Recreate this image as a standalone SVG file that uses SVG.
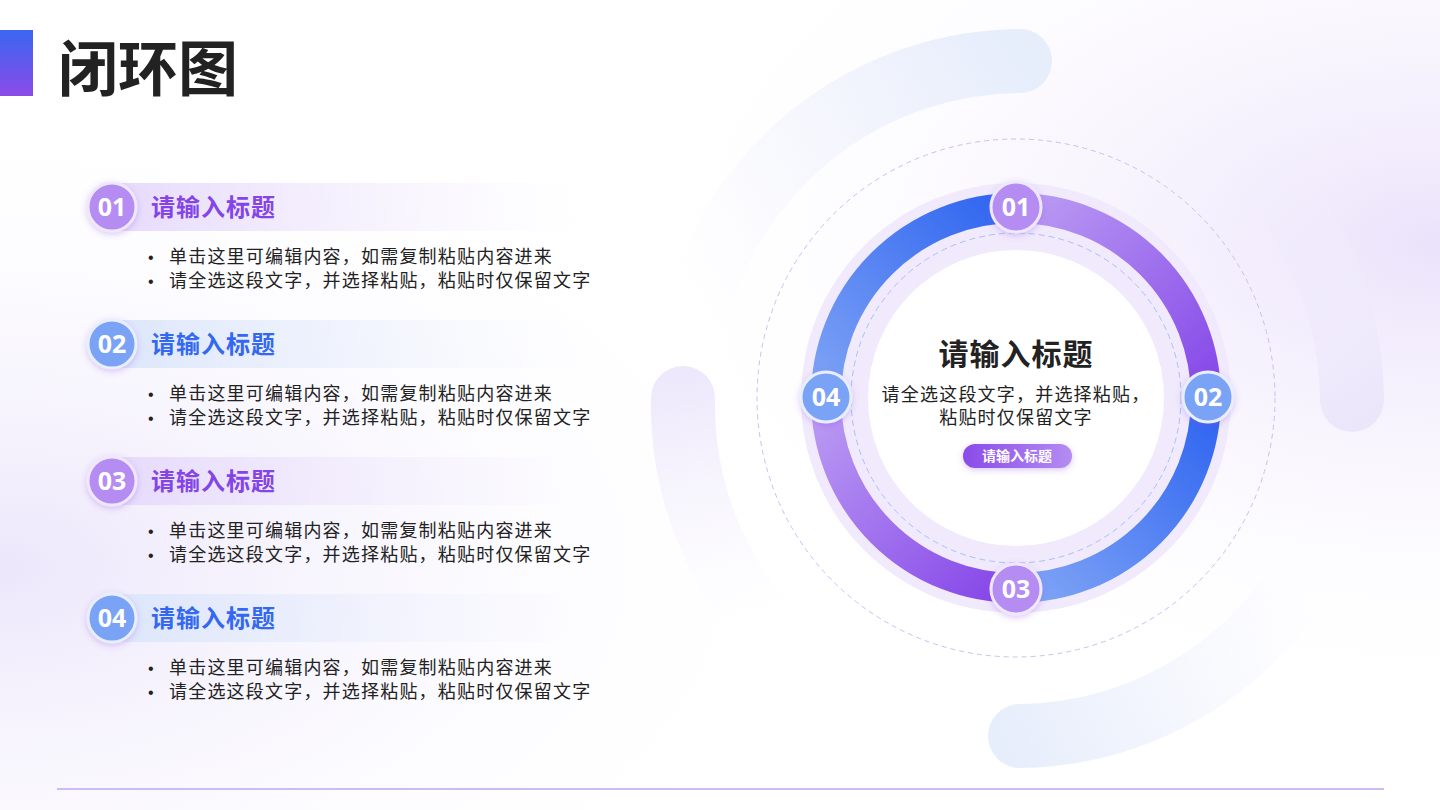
<svg xmlns="http://www.w3.org/2000/svg" width="1440" height="810" viewBox="0 0 1440 810">
<defs>
<style>
.t{font-family:"Noto Sans CJK SC","Noto Sans",sans-serif}
.bt{font-family:"Noto Sans CJK SC",sans-serif;font-size:24px;font-weight:700;letter-spacing:1px}
.bd{font-family:"Noto Sans CJK SC",sans-serif;font-size:18px;fill:#222;letter-spacing:1.2px}
.bu{font-family:"Liberation Sans",sans-serif;font-size:16px;fill:#222}
.num{font-family:"Noto Sans","Noto Sans CJK SC",sans-serif;font-size:25px;font-weight:700;fill:#fff;text-anchor:middle}
</style>
<radialGradient id="bgL" cx="0" cy="0.7" r="0.6"><stop offset="0" stop-color="#ece6fb"/><stop offset="1" stop-color="#ffffff" stop-opacity="0"/></radialGradient>
<radialGradient id="bgR" cx="1" cy="0.3" r="0.6"><stop offset="0" stop-color="#ebe2fb"/><stop offset="1" stop-color="#ffffff" stop-opacity="0"/></radialGradient>
<linearGradient id="bar" x1="0" y1="0" x2="0" y2="1"><stop offset="0" stop-color="#3a66f0"/><stop offset="1" stop-color="#8a4be8"/></linearGradient>
<linearGradient id="tbP" x1="0" y1="0" x2="1" y2="0"><stop offset="0" stop-color="#e6dafb"/><stop offset="1" stop-color="#f3eefd" stop-opacity="0"/></linearGradient>
<linearGradient id="tbB" x1="0" y1="0" x2="1" y2="0"><stop offset="0" stop-color="#dce6fb"/><stop offset="1" stop-color="#eef2fd" stop-opacity="0"/></linearGradient>
<linearGradient id="aA" gradientUnits="userSpaceOnUse" x1="1020" y1="61" x2="700" y2="300"><stop offset="0" stop-color="#e6edfb"/><stop offset="1" stop-color="#f3f3fd" stop-opacity="0"/></linearGradient>
<linearGradient id="aB" gradientUnits="userSpaceOnUse" x1="683" y1="380" x2="720" y2="620"><stop offset="0" stop-color="#ede8fb"/><stop offset="1" stop-color="#f6f3fd" stop-opacity="0"/></linearGradient>
<linearGradient id="aC" gradientUnits="userSpaceOnUse" x1="1352" y1="420" x2="1200" y2="120"><stop offset="0" stop-color="#ece6fb"/><stop offset="1" stop-color="#f3f0fd" stop-opacity="0"/></linearGradient>
<linearGradient id="aD" gradientUnits="userSpaceOnUse" x1="1000" y1="736" x2="1300" y2="580"><stop offset="0" stop-color="#e6edfb"/><stop offset="1" stop-color="#eef0fd" stop-opacity="0"/></linearGradient>
<linearGradient id="gTL" gradientUnits="userSpaceOnUse" x1="826" y1="398" x2="1016" y2="208"><stop offset="0" stop-color="#7ea3f5"/><stop offset="1" stop-color="#2e64f0"/></linearGradient>
<linearGradient id="gTR" gradientUnits="userSpaceOnUse" x1="1016" y1="208" x2="1206" y2="398"><stop offset="0" stop-color="#bb9cf3"/><stop offset="1" stop-color="#8547e8"/></linearGradient>
<linearGradient id="gBR" gradientUnits="userSpaceOnUse" x1="1206" y1="398" x2="1016" y2="588"><stop offset="0" stop-color="#2e64f0"/><stop offset="1" stop-color="#80a5f6"/></linearGradient>
<linearGradient id="gBL" gradientUnits="userSpaceOnUse" x1="1016" y1="588" x2="826" y2="398"><stop offset="0" stop-color="#8545e8"/><stop offset="1" stop-color="#bb9cf3"/></linearGradient>
<linearGradient id="pill" x1="0" y1="0" x2="1" y2="0"><stop offset="0" stop-color="#8a4be8"/><stop offset="1" stop-color="#b48cf2"/></linearGradient>
<filter id="sh" x="-30%" y="-30%" width="160%" height="160%"><feDropShadow dx="0" dy="2" stdDeviation="3" flood-color="#8a4be8" flood-opacity="0.3"/></filter>
</defs>
<rect width="1440" height="810" fill="#fff"/>
<rect width="1440" height="810" fill="url(#bgL)"/>
<rect width="1440" height="810" fill="url(#bgR)"/>
<g fill="none" stroke-width="64" stroke-linecap="round">
<path d="M1020 61 A337 337 0 0 0 700 300" stroke="url(#aA)"/>
<path d="M683 398 A337 337 0 0 0 800 660" stroke="url(#aB)"/>
<path d="M1352 400 A337 337 0 0 0 1200 120" stroke="url(#aC)"/>
<path d="M1020 736 A337 337 0 0 0 1300 580" stroke="url(#aD)"/>
</g>
<rect x="0" y="30" width="33" height="66" fill="url(#bar)"/>
<text x="58" y="91" class="t" font-size="60" font-weight="700" fill="#222">闭环图</text>
<line x1="57" y1="789" x2="1384" y2="789" stroke="#cbbcf3" stroke-width="2"/>

<g id="item1">
<rect x="112" y="183" width="478" height="48" fill="url(#tbP)"/>
<circle cx="112" cy="207" r="24" fill="#b48cf2" stroke="#efe8fd" stroke-width="3" filter="url(#sh)"/>
<text x="112" y="216" class="num">01</text>
<text x="151" y="216" class="bt" fill="#8445e6">请输入标题</text>
<text x="148" y="263" class="bu">•</text><text x="169" y="263" class="bd">单击这里可编辑内容，如需复制粘贴内容进来</text>
<text x="148" y="287" class="bu">•</text><text x="169" y="287" class="bd">请全选这段文字，并选择粘贴，粘贴时仅保留文字</text>
</g>
<g id="item2">
<rect x="112" y="320" width="478" height="48" fill="url(#tbB)"/>
<circle cx="112" cy="344" r="24" fill="#7aa3f5" stroke="#e8eefd" stroke-width="3" filter="url(#sh)"/>
<text x="112" y="353" class="num">02</text>
<text x="151" y="353" class="bt" fill="#3468f0">请输入标题</text>
<text x="148" y="400" class="bu">•</text><text x="169" y="400" class="bd">单击这里可编辑内容，如需复制粘贴内容进来</text>
<text x="148" y="424" class="bu">•</text><text x="169" y="424" class="bd">请全选这段文字，并选择粘贴，粘贴时仅保留文字</text>
</g>
<g id="item3">
<rect x="112" y="457" width="478" height="48" fill="url(#tbP)"/>
<circle cx="112" cy="481" r="24" fill="#b48cf2" stroke="#efe8fd" stroke-width="3" filter="url(#sh)"/>
<text x="112" y="490" class="num">03</text>
<text x="151" y="490" class="bt" fill="#8445e6">请输入标题</text>
<text x="148" y="537" class="bu">•</text><text x="169" y="537" class="bd">单击这里可编辑内容，如需复制粘贴内容进来</text>
<text x="148" y="561" class="bu">•</text><text x="169" y="561" class="bd">请全选这段文字，并选择粘贴，粘贴时仅保留文字</text>
</g>
<g id="item4">
<rect x="112" y="594" width="478" height="48" fill="url(#tbB)"/>
<circle cx="112" cy="618" r="24" fill="#7aa3f5" stroke="#e8eefd" stroke-width="3" filter="url(#sh)"/>
<text x="112" y="627" class="num">04</text>
<text x="151" y="627" class="bt" fill="#3468f0">请输入标题</text>
<text x="148" y="674" class="bu">•</text><text x="169" y="674" class="bd">单击这里可编辑内容，如需复制粘贴内容进来</text>
<text x="148" y="698" class="bu">•</text><text x="169" y="698" class="bd">请全选这段文字，并选择粘贴，粘贴时仅保留文字</text>
</g>

<g id="ring">
<circle cx="1016" cy="398" r="259" fill="none" stroke="#cdbdf5" stroke-width="1" stroke-dasharray="5 4"/>
<circle cx="1016" cy="398" r="215" fill="#f1eafc"/>
<circle cx="1016" cy="398" r="148" fill="#fff"/>
<circle cx="1016" cy="398" r="165" fill="none" stroke="#aac0f5" stroke-width="1" stroke-dasharray="6 4"/>
</g>
<g id="connectors" fill="none" stroke-width="30">
<path d="M826 398 A190 190 0 0 1 1016 208" stroke="url(#gTL)"/>
<path d="M1016 208 A190 190 0 0 1 1206 398" stroke="url(#gTR)"/>
<path d="M1206 398 A190 190 0 0 1 1016 588" stroke="url(#gBR)"/>
<path d="M1016 588 A190 190 0 0 1 826 398" stroke="url(#gBL)"/>
</g>
<g id="center">
<text x="1016" y="365" class="t" font-size="30" font-weight="700" fill="#222" text-anchor="middle" letter-spacing="1">请输入标题</text>
<text x="1016" y="401" class="bd" text-anchor="middle" letter-spacing="0.8">请全选这段文字，并选择粘贴，</text>
<text x="1016" y="424" class="bd" text-anchor="middle" letter-spacing="0.8">粘贴时仅保留文字</text>
<rect x="963" y="444" width="109" height="24" rx="12" fill="url(#pill)" filter="url(#sh)"/>
<text x="1017" y="461" class="t" font-size="14" font-weight="700" fill="#fff" text-anchor="middle">请输入标题</text>
</g>
<g id="n01"><circle cx="1016" cy="207" r="25" fill="#b48cf2" stroke="#efe8fd" stroke-width="3" filter="url(#sh)"/><text x="1016" y="216" class="num">01</text></g>
<g id="n02"><circle cx="1208" cy="397" r="25" fill="#7aa3f5" stroke="#e8eefd" stroke-width="3" filter="url(#sh)"/><text x="1208" y="406" class="num">02</text></g>
<g id="n03"><circle cx="1016" cy="589" r="25" fill="#b48cf2" stroke="#efe8fd" stroke-width="3" filter="url(#sh)"/><text x="1016" y="598" class="num">03</text></g>
<g id="n04"><circle cx="826" cy="397" r="25" fill="#7aa3f5" stroke="#e8eefd" stroke-width="3" filter="url(#sh)"/><text x="826" y="406" class="num">04</text></g>
</svg>
